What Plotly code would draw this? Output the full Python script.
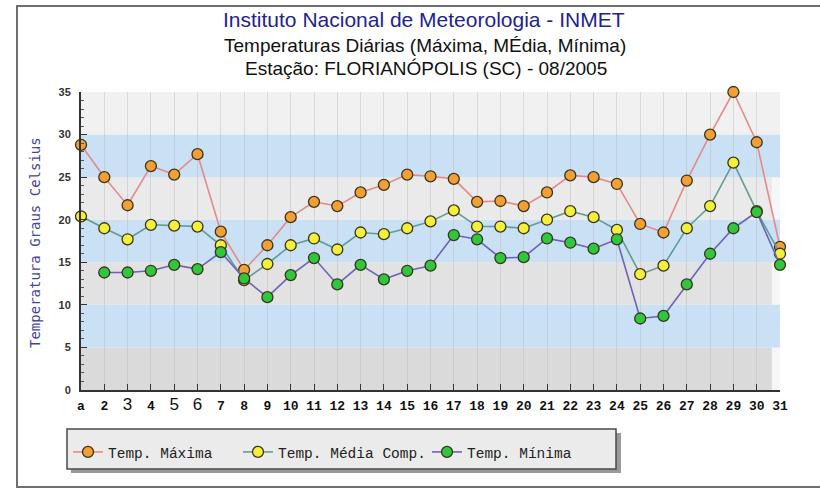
import plotly.graph_objects as go

# Daily temperatures, Florianópolis (SC), August 2005
days = list(range(1, 32))
day_labels = ["a", "2", "3", "4", "5", "6", "7", "8", "9", "10", "11", "12", "13", "14", "15", "16",
              "17", "18", "19", "20", "21", "22", "23", "24", "25", "26", "27", "28", "29", "30", "31"]
temp_max = [28.8, 25.0, 21.7, 26.3, 25.3, 27.7, 18.6, 14.1, 17.0, 20.3, 22.1, 21.6, 23.2, 24.1, 25.3, 25.1,
            24.8, 22.1, 22.2, 21.6, 23.2, 25.2, 25.0, 24.2, 19.5, 18.5, 24.6, 30.0, 35.0, 29.1, 16.8]
temp_med = [20.4, 19.0, 17.7, 19.4, 19.3, 19.2, 17.0, 12.9, 14.8, 17.0, 17.8, 16.5, 18.5, 18.3, 19.0, 19.8,
            21.1, 19.2, 19.2, 19.0, 20.0, 21.0, 20.3, 18.8, 13.6, 14.6, 19.0, 21.6, 26.7, 21.0, 16.0]
temp_min = [None, 13.8, 13.8, 14.0, 14.7, 14.2, 16.2, 13.1, 10.9, 13.5, 15.5, 12.4, 14.7, 13.0, 14.0, 14.6,
            18.2, 17.7, 15.5, 15.6, 17.8, 17.3, 16.6, 17.7, 8.4, 8.7, 12.4, 16.0, 19.0, 20.9, 14.7]
series_names = ["Temp. Máxima", "Temp. Média Comp.", "Temp. Mínima"]
y_ticks = [0, 5, 10, 15, 20, 25, 30, 35]

W, H = 820, 489
L, R, T, B = 81, 40, 92, 99
PW, PH = W - L - R, H - T - B


def px(x):
    return (x - L) / PW


def py(y):
    return (H - B - y) / PH


# a few tick labels use a larger sans face
tick_text = []
for lab in day_labels:
    if lab in ("3", "5", "6"):
        tick_text.append('<span style="font-family:Liberation Sans;font-size:17px;font-weight:normal">%s</span>' % lab)
    else:
        tick_text.append(lab)

fig = go.Figure()

styles = [
    dict(line="#e58a8a", fill="#f2a033"),
    dict(line="#5f9e94", fill="#f4f03a"),
    dict(line="#6c63b5", fill="#2fc83a"),
]
for i, (vals, name, st) in enumerate(zip([temp_max, temp_med, temp_min], series_names, styles)):
    fig.add_trace(go.Scatter(
        x=days, y=vals, name=name, mode="lines+markers",
        line=dict(color=st["line"], width=1.6),
        marker=dict(symbol="circle", size=11, color=st["fill"], line=dict(color="#3a3320", width=1.3)),
        cliponaxis=False,
        legend="legend" if i == 0 else "legend%d" % (i + 1),
    ))

# horizontal colour bands behind the data
band_colors = ["#dadada", "#cae0f5", "#e2e2e2", "#cae0f5", "#eaeaea", "#cae0f5", "#f1f1f1"]
shapes = []
for k, c in enumerate(band_colors):
    x1 = 31 if "e0f5" in c or k == 6 else 30.65
    shapes.append(dict(type="rect", xref="x", yref="y", x0=1, x1=x1, y0=5 * k, y1=5 * k + 5,
                       fillcolor=c, line=dict(width=0), layer="below"))

# outer frame
shapes.append(dict(type="rect", xref="paper", yref="paper", x0=px(17), x1=px(830), y0=py(6), y1=py(487),
                   line=dict(color="#6e6e6e", width=2), fillcolor="rgba(0,0,0,0)", layer="below"))
# legend panel with drop shadow
shapes.append(dict(type="rect", xref="paper", yref="paper", x0=px(71), x1=px(621), y0=py(433), y1=py(473),
                   line=dict(width=0), fillcolor="#9a9a9a", layer="below"))
shapes.append(dict(type="rect", xref="paper", yref="paper", x0=px(67), x1=px(616), y0=py(429), y1=py(469),
                   line=dict(color="#4a4a4a", width=1.5), fillcolor="#ebebeb", layer="below"))

annotations = [
    dict(text="Instituto Nacional de Meteorologia - INMET", x=px(424), y=py(20),
         font=dict(family="Liberation Sans", size=21, color="#23238f")),
    dict(text="Temperaturas Diárias (Máxima, MÉdia, Mínima)", x=px(425), y=py(45),
         font=dict(family="Liberation Sans", size=19, color="#111111")),
    dict(text="Estação: FLORIANÓPOLIS (SC) - 08/2005", x=px(426), y=py(69),
         font=dict(family="Liberation Sans", size=19, color="#111111")),
    dict(text="Temperatura Graus Celsius", x=px(35), y=py(243), textangle=-90,
         font=dict(family="DejaVu Sans Mono", size=14, color="#46469a")),
]
for a in annotations:
    a.update(xref="paper", yref="paper", showarrow=False, xanchor="center", yanchor="middle")

legend_font = dict(family="Liberation Mono", size=14.5, color="#222222")
legend_common = dict(orientation="h", xanchor="left", yanchor="middle", y=py(452),
                     bgcolor="rgba(0,0,0,0)", borderwidth=0, font=legend_font)

fig.update_layout(
    width=W, height=H,
    margin=dict(l=L, r=R, t=T, b=B),
    paper_bgcolor="white",
    plot_bgcolor="#f6f6f6",
    showlegend=True,
    legend=dict(x=px(68), **legend_common),
    legend2=dict(x=px(238), **legend_common),
    legend3=dict(x=px(427), **legend_common),
    shapes=shapes,
    annotations=annotations,
    xaxis=dict(
        range=[1, 31], tickmode="array", tickvals=days, ticktext=tick_text,
        ticks="inside", ticklen=6, tickcolor="#333333", tickwidth=1,
        showline=True, linecolor="#333333", linewidth=2,
        showgrid=True, gridcolor="rgba(175,175,175,0.35)", gridwidth=1,
        zeroline=False,
        tickfont=dict(family="Liberation Mono", size=13, color="#111111", weight="bold"),
        ticklabelstandoff=2,
    ),
    yaxis=dict(
        range=[0, 35], tickmode="array", tickvals=y_ticks,
        ticks="inside", ticklen=6, tickcolor="#333333", tickwidth=1,
        minor=dict(dtick=1, ticks="inside", ticklen=3, tickcolor="#555555", showgrid=False),
        showline=True, linecolor="#333333", linewidth=2,
        showgrid=False, zeroline=False,
        tickfont=dict(family="Liberation Sans", size=11, color="#333333", weight="bold"),
        ticklabelstandoff=6,
    ),
)

fig.write_html("out.html")
